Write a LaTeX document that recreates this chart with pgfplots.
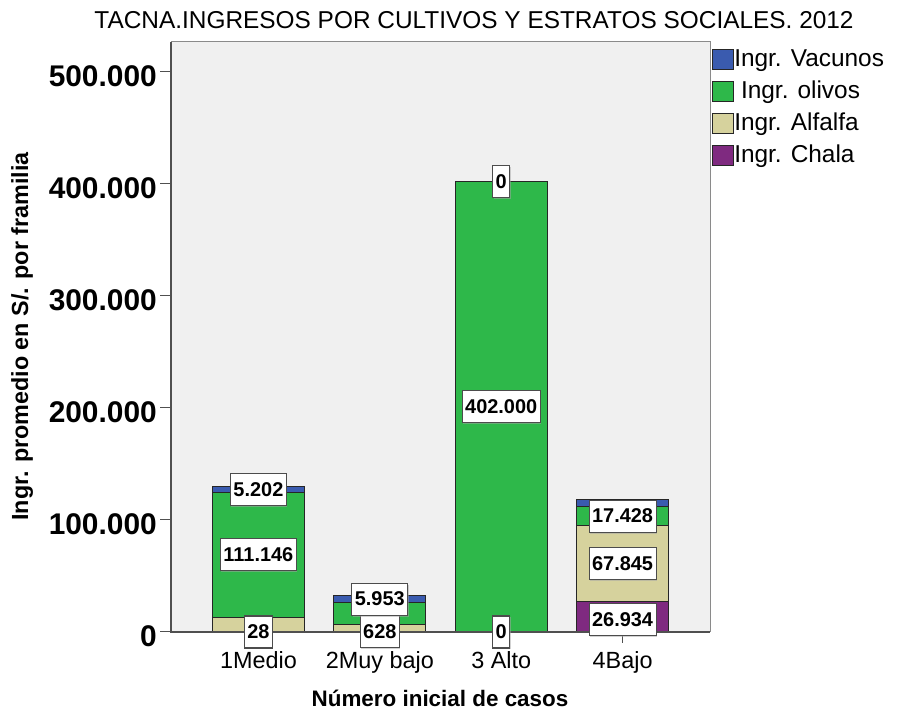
\documentclass[border=0pt]{standalone}
\usepackage{fontspec}
\setmainfont{Liberation Sans}
\usepackage{pgfplots}
\pgfplotsset{compat=1.18}
\usetikzlibrary{shadows}
\definecolor{cvac}{HTML}{3A5BAF}
\definecolor{coli}{HTML}{2EB84A}
\definecolor{calf}{HTML}{D6D29D}
\definecolor{ccha}{HTML}{7F2A80}
\definecolor{cbg}{HTML}{F0F0F0}
\definecolor{cdark}{HTML}{505050}
\definecolor{cframe}{HTML}{8A8A8A}
\begin{document}
\begin{tikzpicture}[x=1bp,y=1bp]
\useasboundingbox (0,0) rectangle (908,713);
\begin{axis}[
  at={(171bp,81bp)}, anchor=south west,
  scale only axis, width=539bp, height=590bp,
  ybar stacked, bar width=92bp,
  xmin=-0.72, xmax=3.72, ymin=0, ymax=526800,
  clip=false,
  axis background/.style={fill=cbg},
  axis line style={draw=cframe, line width=1bp},
  xtick={0,1,2,3}, xticklabels={1Medio,2Muy bajo,3 Alto,4Bajo},
  ytick={0,100000,200000,300000,400000,500000},
  yticklabels={0,100.000,200.000,300.000,400.000,500.000},
  scaled y ticks=false,
  xtick pos=bottom, ytick pos=left,
  tick align=outside, major tick length=11bp,
  tick style={draw=cdark, line width=1bp},
  yticklabel style={font=\bfseries\fontsize{30}{30}\selectfont, inner sep=0pt, xshift=-3bp, yshift=-4.5bp},
  xticklabel style={font=\fontsize{23.5}{23.5}\selectfont, inner sep=0pt, anchor=base, yshift=-26bp},
  every axis plot/.append style={draw=black!85, line width=0.9bp},
  legend style={at={(1.004,0.988)}, anchor=north west, draw=none, fill=none,
    font=\fontsize{24.5}{24.5}\selectfont, row sep=9.5bp, inner sep=0pt,
    nodes={inner sep=0pt, text height=17bp, text depth=5bp, anchor=west}},
  legend cell align=left,
  reverse legend,
  legend image code/.code={\draw[#1, draw=black!85, line width=0.9bp] (0bp,-9bp) rectangle (21bp,11bp);},
]
\addplot[fill=ccha] coordinates {(0,28) (1,628) (2,0) (3,26934)};
\addplot[fill=calf] coordinates {(0,13300) (1,6300) (2,0) (3,67845)};
\addplot[fill=coli] coordinates {(0,111146) (1,19500) (2,402000) (3,17428)};
\addplot[fill=cvac] coordinates {(0,5202) (1,5953) (2,0) (3,5700)};
\legend{Ingr. Chala, Ingr. Alfalfa, \ Ingr. olivos, Ingr. Vacunos}
\coordinate (TL) at (rel axis cs:0,1);
\coordinate (BL) at (rel axis cs:0,0);
\coordinate (BR) at (rel axis cs:1,0);
\coordinate (L1) at (axis cs:0,14);
\coordinate (L2) at (axis cs:0,68901);
\coordinate (L3) at (axis cs:0,127075);
\coordinate (L4) at (axis cs:1,314);
\coordinate (L5) at (axis cs:1,29405);
\coordinate (L6) at (axis cs:2,0);
\coordinate (L7) at (axis cs:2,201000);
\coordinate (L8) at (axis cs:2,402000);
\coordinate (L9) at (axis cs:3,11000);
\coordinate (L10) at (axis cs:3,60856);
\coordinate (L11) at (axis cs:3,103493);
\end{axis}
\draw[cdark, line width=1.2bp] (TL) -- (BL) -- (BR);
\tikzset{lab/.style={draw=black!70, fill=white, line width=1.1bp, inner xsep=3bp, inner ysep=0pt,
   minimum height=32bp, font=\bfseries\fontsize{20}{20}\selectfont,
   drop shadow={shadow xshift=1bp, shadow yshift=-1.5bp, fill=black!35}}}
\node[lab] at (L1) {28};
\node[lab] at (L2) {111.146};
\node[lab] at (L3) {5.202};
\node[lab] at (L4) {628};
\node[lab] at (L5) {5.953};
\node[lab] at (L6) {0};
\node[lab] at (L7) {402.000};
\node[lab] at (L8) {0};
\node[lab] at (L9) {26.934};
\node[lab] at (L10) {67.845};
\node[lab] at (L11) {17.428};
\node[anchor=base, font=\fontsize{24.5}{24.5}\selectfont] at (474,684) {TACNA.INGRESOS POR CULTIVOS Y ESTRATOS SOCIALES. 2012};
\node[anchor=base, font=\bfseries\fontsize{22.5}{22.5}\selectfont] at (440,6) {Número inicial de casos};
\node[anchor=base, rotate=90, font=\bfseries\fontsize{23.4}{23.4}\selectfont] at (28,376.5) {Ingr. promedio en S/. por framilia};
\end{tikzpicture}
\end{document}
